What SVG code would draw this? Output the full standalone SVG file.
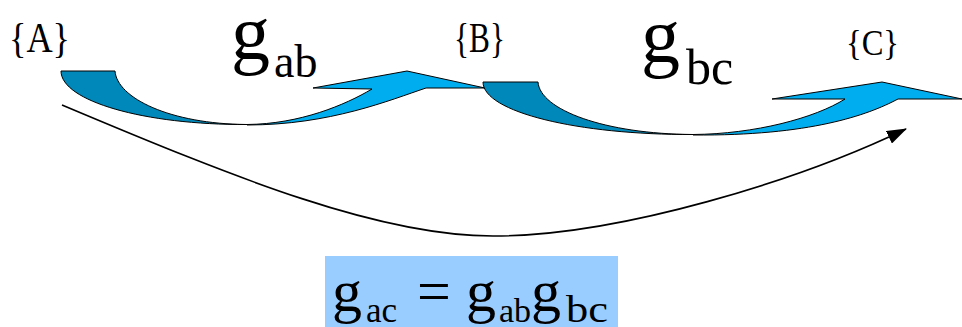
<svg xmlns="http://www.w3.org/2000/svg" width="962" height="327" viewBox="0 0 962 327">
<style>
.dark{fill:#0088BB;stroke:#000;stroke-width:1}
.light{fill:#00AEEF;stroke:#000;stroke-width:1;stroke-linejoin:miter}
.line{fill:none;stroke:#000;stroke-width:1.6}
</style>
<defs>
<marker id="ah" markerUnits="userSpaceOnUse" markerWidth="20" markerHeight="14" refX="19" refY="7" orient="auto">
<path d="M0,0 L20,7 L0,14 z" fill="#000"/>
</marker>
</defs>
<rect width="962" height="327" fill="#fff"/>
<g font-family="Liberation Serif" fill="#000">
<g id="nodeA"><text x="9" y="52" font-size="42" textLength="61" lengthAdjust="spacingAndGlyphs">{A}</text></g>
<g id="nodeB"><text x="454" y="52" font-size="42" textLength="51" lengthAdjust="spacingAndGlyphs">{B}</text></g>
<g id="nodeC"><text x="846" y="55" font-size="36" textLength="53" lengthAdjust="spacingAndGlyphs">{C}</text></g>
</g>
<g id="connectors">
<g id="arrow-ab">
<path class="dark" d="M61,71 L115,71 C117,98 170,124 247,124.5 C144,125 61,101 61,71 Z"/>
<path class="light" d="M247,124.5 C300,124 345,105 372,89 L313,88 L407,71 L485,88 L426,88 C390,100 330,125 247,125 Z"/>
</g>
<g id="arrow-bc">
<path class="dark" d="M483,82 L538,82 C540,110 605,134 693,134.5 C578,135 483,112 483,82 Z"/>
<path class="light" d="M693,134.5 C755,134 815,118 845,99 L772,99 L882,82 L962,99 L898,99 C868,115 810,136 693,135 Z"/>
</g>
<path id="arrow-ac" class="line" d="M62,105 C240,180 380,236 493,236 C620,236 800,180 906,129" marker-end="url(#ah)"/>
<g id="label-gab" font-family="Liberation Serif" fill="#000"><text x="231" y="59" font-size="78">g</text><text x="274" y="77" font-size="46">ab</text></g>
<g id="label-gbc" font-family="Liberation Serif" fill="#000"><text x="641" y="62" font-size="78">g</text><text x="686" y="84" font-size="50">bc</text></g>
</g>
<g id="formula" font-family="Liberation Serif" fill="#000">
<rect x="325" y="256" width="293" height="71" fill="#99CCFF"/>
<text x="332" y="311" font-size="60">g</text>
<text x="366" y="322" font-size="35">ac</text>
<text x="417" y="311" font-size="60">=</text>
<text x="466" y="311" font-size="60">g</text>
<text x="499" y="322" font-size="34">ab</text>
<text x="531" y="311" font-size="60">g</text>
<text x="566" y="322" font-size="38" textLength="42" lengthAdjust="spacingAndGlyphs">bc</text>
</g>
</svg>
